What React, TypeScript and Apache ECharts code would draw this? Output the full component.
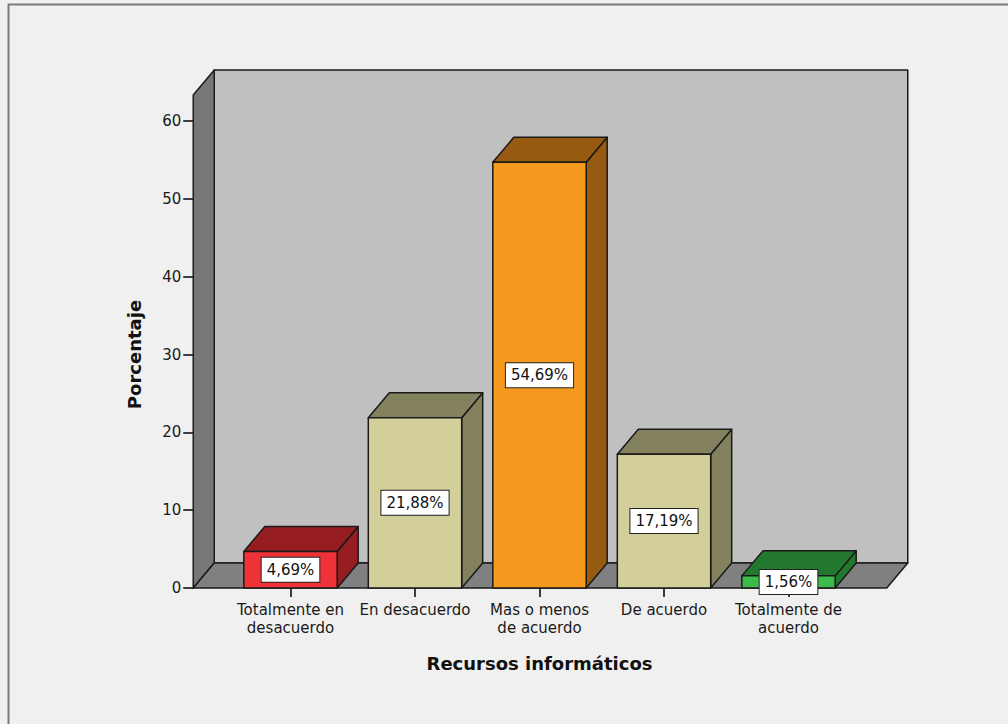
import React, { useEffect, useRef } from "react";
import * as echarts from "echarts";

// Recursos informáticos – distribución porcentual de respuestas
const categories = [
  "Totalmente en\ndesacuerdo",
  "En desacuerdo",
  "Mas o menos\nde acuerdo",
  "De acuerdo",
  "Totalmente de\nacuerdo",
];
const percentages = [4.69, 21.88, 54.69, 17.19, 1.56];
const frontColors = ["#ee3238", "#d3cf9a", "#f7991f", "#d3cf9a", "#3dbb4a"];
const shadeColors = ["#961d21", "#84825e", "#975a11", "#84825e", "#21782e"];
const yTicks = [0, 10, 20, 30, 40, 50, 60];

// 3D look: depth offset of the box faces, in pixels
const DX = 21;
const DY = 25;
const AXIS_OFFSET = 35; // front edge of the left wall, left of the grid
const RIGHT_EXTRA = 36; // floor past the last category band
const WALL_TOP = 63.34; // value at the top edge of the walls
const EDGE = "#1a1a1a";
const FONT = "DejaVu Sans";

const fmt = (v: number) => v.toFixed(2).replace(".", ",") + "%";

export default function App() {
  const ref = useRef<HTMLDivElement>(null);

  useEffect(() => {
    if (!ref.current) return;
    const chart = echarts.init(ref.current, null, { renderer: "svg" });

    const option: any = {
      animation: false,
      backgroundColor: "#f0f0f0",
      graphic: [
        {
          type: "rect",
          shape: { x: 8.5, y: 4.5, width: 1100, height: 800 },
          style: { fill: "none", stroke: "#7a7a7a", lineWidth: 2 },
          silent: true,
        },
      ],
      grid: { left: 228.25, right: 157.25, top: 121, bottom: 136 },
      xAxis: {
        type: "category",
        data: categories,
        axisLine: { show: false },
        axisTick: {
          show: true,
          alignWithLabel: true,
          length: 9,
          lineStyle: { color: "#000", width: 1.5 },
        },
        axisLabel: {
          interval: 0,
          margin: 13,
          color: "#1a1a1a",
          fontFamily: FONT,
          fontSize: 15,
          lineHeight: 18,
        },
        name: "Recursos informáticos",
        nameLocation: "middle",
        nameGap: 66,
        nameTextStyle: {
          color: "#111",
          fontFamily: FONT,
          fontWeight: "bold",
          fontSize: 18,
        },
        splitLine: { show: false },
      },
      yAxis: {
        type: "value",
        min: yTicks[0],
        max: yTicks[yTicks.length - 1],
        interval: yTicks[1] - yTicks[0],
        offset: AXIS_OFFSET,
        axisLine: { show: false },
        axisTick: { show: true, length: 10, lineStyle: { color: "#000", width: 1.5 } },
        axisLabel: {
          margin: 12,
          color: "#1a1a1a",
          fontFamily: FONT,
          fontSize: 15,
        },
        splitLine: { show: false },
        name: "Porcentaje",
        nameLocation: "middle",
        nameRotate: 90,
        nameGap: 50,
        nameTextStyle: {
          color: "#111",
          fontFamily: FONT,
          fontWeight: "bold",
          fontSize: 18,
        },
      },
      series: [
        {
          // walls and floor of the box
          type: "custom",
          clip: false,
          silent: true,
          z: 1,
          data: [[0, 0]],
          renderItem: (params: any, api: any) => {
            const cs = params.coordSys;
            const left = cs.x - AXIS_OFFSET;
            const right = cs.x + cs.width + RIGHT_EXTRA;
            const y0 = api.coord([0, 0])[1];
            const yT = api.coord([0, WALL_TOP])[1];
            const edge = { stroke: EDGE, lineWidth: 1.5, lineJoin: "round" };
            return {
              type: "group",
              children: [
                {
                  type: "polygon",
                  shape: {
                    points: [
                      [left + DX, yT - DY],
                      [right + DX, yT - DY],
                      [right + DX, y0 - DY],
                      [left + DX, y0 - DY],
                    ],
                  },
                  style: { fill: "#c0c0c0", ...edge },
                },
                {
                  type: "polygon",
                  shape: {
                    points: [
                      [left, y0],
                      [left, yT],
                      [left + DX, yT - DY],
                      [left + DX, y0 - DY],
                    ],
                  },
                  style: { fill: "#787878", ...edge },
                },
                {
                  type: "polygon",
                  shape: {
                    points: [
                      [left, y0],
                      [right, y0],
                      [right + DX, y0 - DY],
                      [left + DX, y0 - DY],
                    ],
                  },
                  style: { fill: "#808080", ...edge },
                },
              ],
            };
          },
        },
        {
          // 3D bars with their value boxes
          type: "custom",
          clip: false,
          z: 3,
          data: percentages.map((v, i) => [i, v]),
          encode: { x: 0, y: 1 },
          renderItem: (params: any, api: any) => {
            const i = api.value(0);
            const v = api.value(1);
            const top = api.coord([i, v]);
            const base = api.coord([i, 0]);
            const w = api.size([1, 0])[0] * 0.75;
            const x0 = top[0] - w / 2;
            const x1 = top[0] + w / 2;
            const yT = top[1];
            const y0 = base[1];
            const edge = { stroke: EDGE, lineWidth: 1.5, lineJoin: "round" };
            return {
              type: "group",
              children: [
                {
                  type: "polygon",
                  shape: {
                    points: [
                      [x1, yT],
                      [x1 + DX, yT - DY],
                      [x1 + DX, y0 - DY],
                      [x1, y0],
                    ],
                  },
                  style: { fill: shadeColors[i], ...edge },
                },
                {
                  type: "polygon",
                  shape: {
                    points: [
                      [x0, yT],
                      [x0 + DX, yT - DY],
                      [x1 + DX, yT - DY],
                      [x1, yT],
                    ],
                  },
                  style: { fill: shadeColors[i], ...edge },
                },
                {
                  type: "rect",
                  shape: { x: x0, y: yT, width: w, height: y0 - yT },
                  style: { fill: frontColors[i], ...edge },
                },
                {
                  type: "text",
                  z2: 10,
                  x: top[0],
                  y: (yT + y0) / 2,
                  style: {
                    text: fmt(v),
                    fill: "#111",
                    font: `15px "${FONT}"`,
                    align: "center",
                    verticalAlign: "middle",
                    backgroundColor: "#ffffff",
                    borderColor: "#222",
                    borderWidth: 1,
                    padding: [5, 5, 4, 5],
                  },
                },
              ],
            };
          },
        },
      ],
    };

    chart.setOption(option);
    return () => chart.dispose();
  }, []);

  return (
    <div
      ref={ref}
      style={{ position: "fixed", left: 0, top: 0, width: 1008, height: 724 }}
    />
  );
}
